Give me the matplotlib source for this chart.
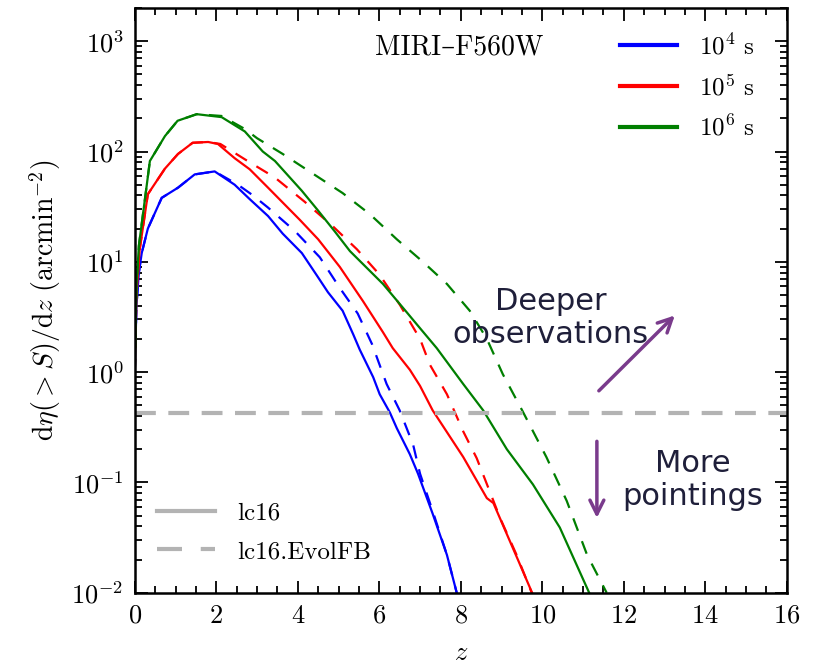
import numpy as np
import matplotlib
matplotlib.use("Agg")
import matplotlib.pyplot as plt
from matplotlib.lines import Line2D
from matplotlib.ticker import MultipleLocator, LogLocator, NullFormatter

plt.rcParams['font.family'] = ['cmr10', 'DejaVu Serif']
plt.rcParams['mathtext.fontset'] = 'cm'
plt.rcParams['axes.unicode_minus'] = False
plt.rcParams['axes.formatter.use_mathtext'] = True

# exposure times (legend) and curve colours
exposures = [r'$10^4$ s', r'$10^5$ s', r'$10^6$ s']
colors = ['#0000ff', '#ff0000', '#007f00']

# lc16 (solid) curves
z_1e4 = [0.0, 0.04, 0.1, 0.17, 0.32, 0.66, 1.06, 1.47, 1.96, 2.45, 2.82, 3.27, 3.63, 4.1, 4.47,
         4.74, 5.1, 5.36, 5.52, 5.85, 6.01, 6.26, 6.43, 6.75, 6.95, 7.31, 7.66, 7.9]
y_1e4 = [1.0, 4.0, 8.0, 12, 20, 38, 47, 62, 66, 50, 37, 26, 18, 12, 7.5,
         5.3, 3.6, 2.2, 1.6, 0.9, 0.63, 0.43, 0.31, 0.18, 0.12, 0.052, 0.022, 0.01]

z_1e5 = [0.0, 0.04, 0.12, 0.32, 0.74, 1.06, 1.42, 1.8, 2.04, 2.45, 2.82, 3.27, 4.05, 4.5, 5.03,
         5.6, 6.09, 6.33, 6.75, 7.0, 7.31, 8.06, 8.64, 8.8, 9.13, 9.4, 9.75]
y_1e5 = [1.0, 5.0, 13, 41, 70, 95, 120, 122, 117, 87, 69, 47, 24, 16, 9.0,
         4.4, 2.3, 1.65, 1.05, 0.75, 0.45, 0.17, 0.072, 0.065, 0.034, 0.02, 0.01]

z_1e6 = [0.0, 0.04, 0.1, 0.37, 0.74, 1.05, 1.52, 2.13, 2.7, 3.14, 3.44, 4.1, 4.47, 4.9, 5.28,
         6.09, 6.67, 7.0, 7.41, 8.06, 8.55, 9.13, 9.77, 10.43, 11.1, 11.15]
y_1e6 = [1.0, 6.0, 14, 82, 138, 190, 218, 205, 152, 100, 82, 44, 30, 19, 12.5,
         6.3, 3.5, 2.5, 1.65, 0.78, 0.45, 0.2, 0.096, 0.039, 0.011, 0.01]

# lc16.EvolFB (dashed) curves
zd_1e4 = [0.0, 0.04, 0.1, 0.17, 0.32, 0.66, 1.06, 1.47, 1.96, 2.53, 2.9, 3.27, 3.93, 4.54, 5.03,
          5.47, 5.82, 6.18, 6.5, 6.83, 7.0, 7.31, 7.66, 7.9]
yd_1e4 = [1.0, 4.0, 8.0, 12, 20, 38, 47, 62, 66, 50, 40, 31, 19, 11, 5.8,
          3.4, 1.8, 0.78, 0.45, 0.22, 0.12, 0.055, 0.022, 0.01]

zd_1e5 = [0.0, 0.04, 0.12, 0.32, 0.74, 1.06, 1.42, 1.8, 2.1, 2.7, 3.44, 4.17, 4.86, 5.45, 6.0,
          6.5, 7.0, 7.24, 7.66, 8.06, 8.39, 8.71, 8.96, 9.37, 9.74]
yd_1e5 = [1.0, 5.0, 13, 41, 70, 95, 120, 122, 117, 85, 58, 35, 21, 13, 7.7,
          4.1, 2.0, 1.17, 0.63, 0.29, 0.166, 0.083, 0.048, 0.022, 0.01]

zd_1e6 = [0.0, 0.04, 0.1, 0.37, 0.74, 1.05, 1.52, 2.13, 2.7, 3.0, 3.63, 4.37, 5.1, 5.77, 6.43,
          7.07, 7.66, 8.22, 8.64, 9.03, 9.52, 10.1, 10.6, 11.1, 11.58]
yd_1e6 = [1.0, 6.0, 14, 82, 138, 190, 218, 210, 160, 132, 95, 63, 42, 27, 16,
          10, 6.3, 3.6, 2.0, 0.96, 0.44, 0.17, 0.068, 0.022, 0.01]

solid = [(z_1e4, y_1e4), (z_1e5, y_1e5), (z_1e6, y_1e6)]
dashed = [(zd_1e4, yd_1e4), (zd_1e5, yd_1e5), (zd_1e6, yd_1e6)]

# surface density limit
y_limit = 0.43

fig = plt.figure(figsize=(8.17, 6.66), dpi=100)
ax = fig.add_axes([0.165, 0.11, 0.798, 0.878])

for (zs, ys), (zd, yd), c in zip(solid, dashed, colors):
    ax.plot(zd, yd, color=c, lw=1.6, ls=(0, (6, 5)))
    ax.plot(zs, ys, color=c, lw=1.6)

ax.axhline(y_limit, color='#b3b3b3', lw=3, ls=(0, (5, 3)))

ax.set_yscale('log')
ax.set_xlim(0, 16)
ax.set_ylim(1e-2, 2e3)
ax.xaxis.set_major_locator(MultipleLocator(2))
ax.xaxis.set_minor_locator(MultipleLocator(0.5))
ax.yaxis.set_major_locator(LogLocator(base=10, numticks=10))
ax.yaxis.set_minor_locator(LogLocator(base=10, subs=np.arange(2, 10), numticks=10))
ax.yaxis.set_minor_formatter(NullFormatter())
ax.tick_params(which='both', direction='in', top=True, right=True, width=1.3)
ax.tick_params(which='major', length=9, labelsize=19, pad=8)
ax.tick_params(which='minor', length=5)
for s in ax.spines.values():
    s.set_linewidth(1.8)

ax.set_xlabel(r'$z$', fontsize=19, labelpad=10)
ax.set_ylabel(r'$\mathrm{d}\eta(>S)/\mathrm{d}z\ (\mathrm{arcmin}^{-2})$', fontsize=20, labelpad=6)

ax.text(0.498, 0.932, 'MIRI–F560W', transform=ax.transAxes, ha='center', va='center', fontsize=20)

handles = [Line2D([], [], color=c, lw=3) for c in colors]
leg1 = ax.legend(handles, exposures, loc='upper right', frameon=False, fontsize=18,
                 handlelength=2.3, handletextpad=0.85, labelspacing=0.6,
                 bbox_to_anchor=(0.985, 0.995))
ax.add_artist(leg1)

ghandles = [Line2D([], [], color='#b3b3b3', lw=3),
            Line2D([], [], color='#b3b3b3', lw=3, ls=(0, (6, 4.5)))]
ax.legend(ghandles, ['lc16', 'lc16.EvolFB'], loc='lower left', frameon=False, fontsize=18,
          handlelength=2.3, handletextpad=0.9, labelspacing=0.65,
          bbox_to_anchor=(0.0, 0.012))

purple = '#7a3b8c'
ax.annotate('', xy=(13.3, 3.4), xytext=(11.34, 0.65),
            arrowprops=dict(arrowstyle='->', color=purple, lw=2.5, mutation_scale=25))
ax.annotate('', xy=(11.34, 0.045), xytext=(11.34, 0.25),
            arrowprops=dict(arrowstyle='->', color=purple, lw=2.5, mutation_scale=25))

ax.text(10.2, 3.1, 'Deeper\nobservations', ha='center', va='center', fontsize=22,
        family='DejaVu Sans', color='#1f1f3a', linespacing=1.2)
ax.text(13.7, 0.105, 'More\npointings', ha='center', va='center', fontsize=22,
        family='DejaVu Sans', color='#1f1f3a', linespacing=1.2)

fig.savefig('out.png', dpi=100)
